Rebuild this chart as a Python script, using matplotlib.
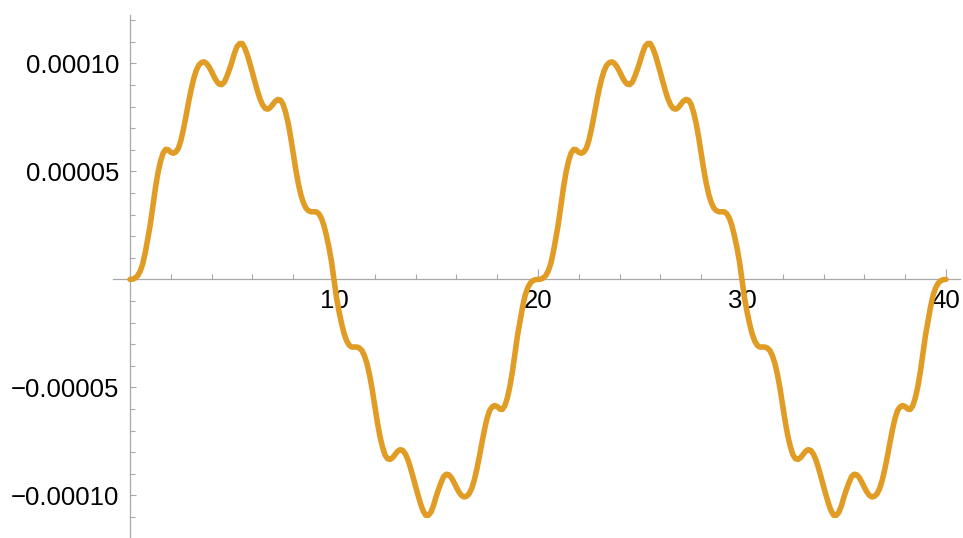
import numpy as np
import matplotlib
matplotlib.use("Agg")
import matplotlib.pyplot as plt
from matplotlib.ticker import FixedLocator, NullFormatter

plt.rcParams['font.family'] = ['Liberation Sans', 'DejaVu Sans']

# Signal values in units of 1e-5, sampled every 0.125 along x from 0 to 40
signal_e5 = [
    # x = 0 .. 10
    0.00, 0.01, 0.06, 0.17, 0.38, 0.72, 1.25, 1.90,
    2.58, 3.40, 4.25, 4.95, 5.48, 5.85, 6.02, 6.00,
    5.88, 5.84, 5.90, 6.08, 6.45, 6.97, 7.58, 8.22,
    8.80, 9.30, 9.68, 9.92, 10.04, 10.07, 10.00, 9.84,
    9.62, 9.38, 9.17, 9.04, 9.02, 9.13, 9.40, 9.72,
    10.08, 10.48, 10.78, 10.92, 10.92, 10.72, 10.40, 10.00,
    9.58, 9.14, 8.72, 8.35, 8.08, 7.92, 7.88, 7.95,
    8.10, 8.25, 8.33, 8.30, 8.12, 7.75, 7.25, 6.60,
    5.85, 5.10, 4.45, 3.92, 3.55, 3.30, 3.18, 3.13,
    3.13, 3.13, 3.05, 2.85, 2.52, 2.05, 1.50, 0.85,
    0.00,
    # x = 10.125 .. 20
    -0.85, -1.50, -2.05, -2.52, -2.85, -3.05, -3.13, -3.13,
    -3.13, -3.18, -3.30, -3.55, -3.92, -4.45, -5.10, -5.85,
    -6.60, -7.25, -7.75, -8.12, -8.30, -8.33, -8.25, -8.10,
    -7.95, -7.88, -7.92, -8.08, -8.35, -8.72, -9.14, -9.58,
    -10.00, -10.40, -10.72, -10.92, -10.92, -10.78, -10.48, -10.08,
    -9.72, -9.40, -9.13, -9.02, -9.04, -9.17, -9.38, -9.62,
    -9.84, -10.00, -10.07, -10.04, -9.92, -9.68, -9.30, -8.80,
    -8.22, -7.58, -6.97, -6.45, -6.08, -5.90, -5.84, -5.88,
    -6.00, -6.02, -5.85, -5.48, -4.95, -4.25, -3.40, -2.58,
    -1.90, -1.25, -0.72, -0.38, -0.17, -0.06, -0.01, 0.00,
    # x = 20.125 .. 30
    0.01, 0.06, 0.17, 0.38, 0.72, 1.25, 1.90,
    2.58, 3.40, 4.25, 4.95, 5.48, 5.85, 6.02, 6.00,
    5.88, 5.84, 5.90, 6.08, 6.45, 6.97, 7.58, 8.22,
    8.80, 9.30, 9.68, 9.92, 10.04, 10.07, 10.00, 9.84,
    9.62, 9.38, 9.17, 9.04, 9.02, 9.13, 9.40, 9.72,
    10.08, 10.48, 10.78, 10.92, 10.92, 10.72, 10.40, 10.00,
    9.58, 9.14, 8.72, 8.35, 8.08, 7.92, 7.88, 7.95,
    8.10, 8.25, 8.33, 8.30, 8.12, 7.75, 7.25, 6.60,
    5.85, 5.10, 4.45, 3.92, 3.55, 3.30, 3.18, 3.13,
    3.13, 3.13, 3.05, 2.85, 2.52, 2.05, 1.50, 0.85,
    0.00,
    # x = 30.125 .. 40
    -0.85, -1.50, -2.05, -2.52, -2.85, -3.05, -3.13, -3.13,
    -3.13, -3.18, -3.30, -3.55, -3.92, -4.45, -5.10, -5.85,
    -6.60, -7.25, -7.75, -8.12, -8.30, -8.33, -8.25, -8.10,
    -7.95, -7.88, -7.92, -8.08, -8.35, -8.72, -9.14, -9.58,
    -10.00, -10.40, -10.72, -10.92, -10.92, -10.78, -10.48, -10.08,
    -9.72, -9.40, -9.13, -9.02, -9.04, -9.17, -9.38, -9.62,
    -9.84, -10.00, -10.07, -10.04, -9.92, -9.68, -9.30, -8.80,
    -8.22, -7.58, -6.97, -6.45, -6.08, -5.90, -5.84, -5.88,
    -6.00, -6.02, -5.85, -5.48, -4.95, -4.25, -3.40, -2.58,
    -1.90, -1.25, -0.72, -0.38, -0.17, -0.06, -0.01, 0.00,
]

x_major = [10, 20, 30, 40]
x_major_labels = ["10", "20", "30", "40"]
x_minor = [2, 4, 6, 8, 12, 14, 16, 18, 22, 24, 26, 28, 32, 34, 36, 38]
y_major = [-1e-4, -5e-5, 5e-5, 1e-4]
y_major_labels = ["\u22120.00010", "\u22120.00005", "0.00005", "0.00010"]
y_minor = [k * 1e-5 for k in range(-11, 13) if k % 5 != 0]

x_vals = np.arange(len(signal_e5)) * 0.125
y_vals = np.array(signal_e5) * 1e-5

W, H = 963, 538
fig = plt.figure(figsize=(W / 100, H / 100), dpi=100)
ax = fig.add_axes([113 / W, 0.0, 847 / W, 523 / H])

ax.plot(x_vals, y_vals, color="#e09c24", lw=4.0, solid_joinstyle="round",
        solid_capstyle="round", zorder=3, clip_on=False)

ax.set_xlim(-0.833, 40.69)
ax.set_ylim(-11.97e-5, 12.24e-5)

for side in ("top", "right"):
    ax.spines[side].set_visible(False)
for side in ("left", "bottom"):
    ax.spines[side].set_position(("data", 0))
    ax.spines[side].set_color("#a8a8a8")
    ax.spines[side].set_linewidth(0.9)

ax.xaxis.set_major_locator(FixedLocator(x_major))
ax.xaxis.set_minor_locator(FixedLocator(x_minor))
ax.set_xticklabels(x_major_labels)
ax.yaxis.set_major_locator(FixedLocator(y_major))
ax.yaxis.set_minor_locator(FixedLocator(y_minor))
ax.set_yticklabels(y_major_labels)
ax.xaxis.set_minor_formatter(NullFormatter())
ax.yaxis.set_minor_formatter(NullFormatter())

ax.tick_params(axis="both", which="both", direction="in", color="#a8a8a8",
               width=0.8, labelcolor="black", labelsize=18.5)
ax.tick_params(axis="x", which="major", length=7.2, pad=7)
ax.tick_params(axis="x", which="minor", length=3.6)
ax.tick_params(axis="y", which="major", length=4.5, pad=8)
ax.tick_params(axis="y", which="minor", length=3.6)

fig.savefig("out.png", dpi=100)
